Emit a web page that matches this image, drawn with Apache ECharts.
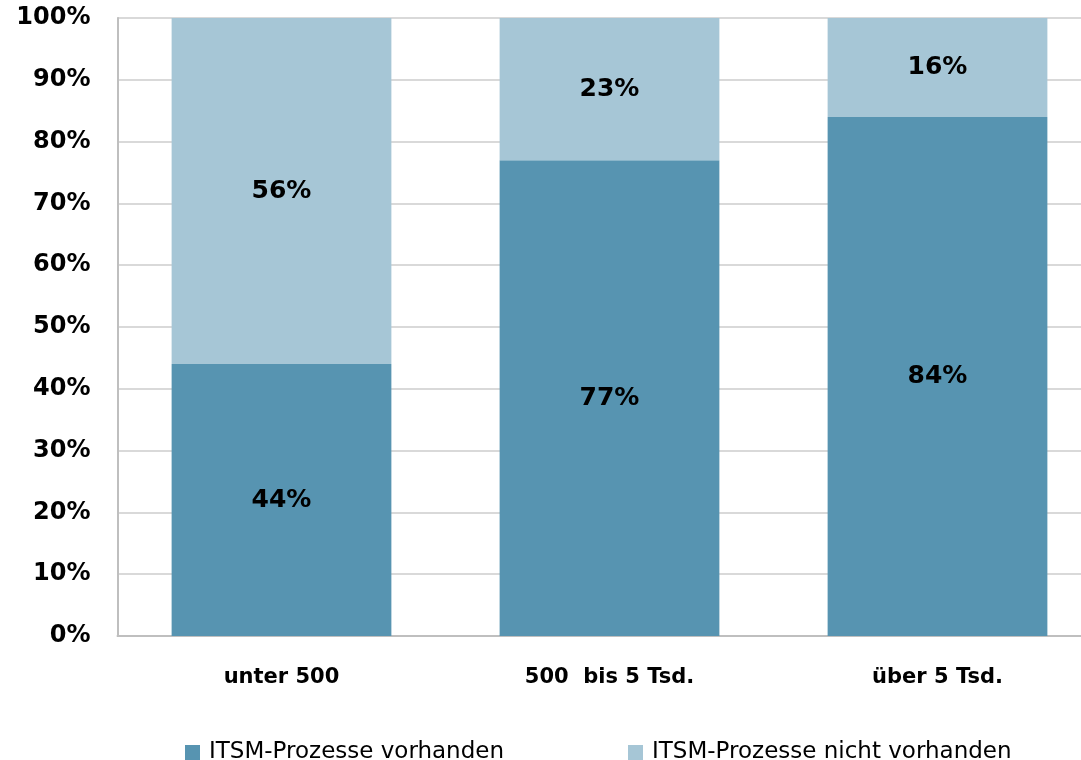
<!DOCTYPE html>
<html>
  <head>
    <title></title>
    <meta charset="UTF-8" />
    <script src="https://cdn.jsdelivr.net/npm/echarts@6/dist/echarts.min.js"></script>
    <style>
      body { margin: 0; background: #fff; }
    </style>
  </head>
  <body>
    <div id="main"></div>
    <script>
      const width = 1081;
      const height = 760;
      const main = document.getElementById('main');
      main.style.width = `${width}px`;
      main.style.height = `${height}px`;

      const categories = ['unter 500', '500  bis 5 Tsd.', 'über 5 Tsd.'];
      const vorhanden = [44, 77, 84];
      const nichtVorhanden = [56, 23, 16];
      const seriesNames = ['ITSM-Prozesse vorhanden', 'ITSM-Prozesse nicht vorhanden'];
      const colors = ['#5794b1', '#a6c6d6'];

      const font = '"DejaVu Sans", Verdana, sans-serif';

      const labelStyle = {
        show: true,
        position: 'inside',
        formatter: p => `${p.value}%`,
        color: '#000',
        fontFamily: font,
        fontWeight: 'bold',
        fontSize: 25
      };

      const myChart = echarts.init(main);
      const option = {
        animation: false,
        color: colors,
        textStyle: { fontFamily: font },
        grid: {
          left: 117.5,
          top: 18,
          width: 984,
          height: 618,
          outerBoundsMode: 'none'
        },
        legend: {
          data: seriesNames,
          left: 180,
          top: 736,
          itemWidth: 15,
          itemHeight: 15,
          itemGap: 124,
          icon: 'rect',
          textStyle: {
            fontFamily: font,
            fontSize: 23,
            color: '#000',
            padding: [0, 0, 0, 4]
          }
        },
        xAxis: {
          type: 'category',
          data: categories,
          axisTick: { show: false },
          axisLine: { lineStyle: { color: '#bfbfbf', width: 2 } },
          axisLabel: {
            margin: 31,
            color: '#000',
            fontFamily: font,
            fontWeight: 'bold',
            fontSize: 21
          }
        },
        yAxis: {
          type: 'value',
          min: 0,
          max: 100,
          interval: 10,
          axisLine: { show: true, lineStyle: { color: '#bfbfbf', width: 2 } },
          axisTick: { show: false },
          splitLine: { lineStyle: { color: '#cccccc', width: 1.5 } },
          axisLabel: {
            margin: 27,
            formatter: '{value}%',
            color: '#000',
            fontFamily: font,
            fontWeight: 'bold',
            fontSize: 24
          }
        },
        series: [
          {
            name: seriesNames[0],
            type: 'bar',
            stack: 'total',
            barCategoryGap: '33%',
            label: labelStyle,
            data: vorhanden
          },
          {
            name: seriesNames[1],
            type: 'bar',
            stack: 'total',
            barCategoryGap: '33%',
            label: labelStyle,
            data: nichtVorhanden
          }
        ]
      };
      myChart.setOption(option);
    </script>
  </body>
</html>
